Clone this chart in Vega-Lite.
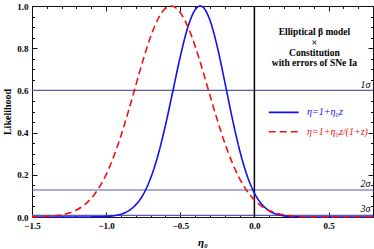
{
  "$schema": "https://vega.github.io/schema/vega-lite/v6.json",
  "width": 341,
  "height": 211,
  "autosize": {"type": "none"},
  "padding": {"left": 32, "top": 6, "right": 1, "bottom": 32},
  "background": "white",
  "config": {"view": {"stroke": "#111111", "strokeWidth": 1}, "font": "Liberation Serif"},
  "datasets": {
    "curves": [
      {"eta": -1.5, "L": 0, "model": "a"}, {"eta": -1.45, "L": 0, "model": "a"}, {"eta": -1.4, "L": 0, "model": "a"},
      {"eta": -1.35, "L": 0, "model": "a"}, {"eta": -1.3, "L": 0, "model": "a"}, {"eta": -1.25, "L": 0.00001, "model": "a"},
      {"eta": -1.2, "L": 0.00003, "model": "a"}, {"eta": -1.15, "L": 0.0001, "model": "a"}, {"eta": -1.1, "L": 0.0003, "model": "a"},
      {"eta": -1.05, "L": 0.0008, "model": "a"}, {"eta": -1.0, "L": 0.0023, "model": "a"}, {"eta": -0.95, "L": 0.0057, "model": "a"},
      {"eta": -0.9, "L": 0.0133, "model": "a"}, {"eta": -0.85, "L": 0.0287, "model": "a"}, {"eta": -0.8, "L": 0.0575, "model": "a"},
      {"eta": -0.75, "L": 0.1067, "model": "a"}, {"eta": -0.7, "L": 0.1838, "model": "a"}, {"eta": -0.65, "L": 0.2934, "model": "a"},
      {"eta": -0.6, "L": 0.4345, "model": "a"}, {"eta": -0.55, "L": 0.5965, "model": "a"}, {"eta": -0.5, "L": 0.7595, "model": "a"},
      {"eta": -0.45, "L": 0.8967, "model": "a"}, {"eta": -0.4, "L": 0.9817, "model": "a"}, {"eta": -0.365, "L": 1, "model": "a"},
      {"eta": -0.35, "L": 0.9963, "model": "a"}, {"eta": -0.3, "L": 0.9333, "model": "a"}, {"eta": -0.25, "L": 0.8058, "model": "a"},
      {"eta": -0.2, "L": 0.6412, "model": "a"}, {"eta": -0.15, "L": 0.4701, "model": "a"}, {"eta": -0.1, "L": 0.3177, "model": "a"},
      {"eta": -0.05, "L": 0.1979, "model": "a"}, {"eta": 0, "L": 0.1136, "model": "a"}, {"eta": 0.05, "L": 0.0601, "model": "a"},
      {"eta": 0.1, "L": 0.0293, "model": "a"}, {"eta": 0.15, "L": 0.0132, "model": "a"}, {"eta": 0.2, "L": 0.0055, "model": "a"},
      {"eta": 0.25, "L": 0.0021, "model": "a"}, {"eta": 0.3, "L": 0.0007, "model": "a"}, {"eta": 0.35, "L": 0.0002, "model": "a"},
      {"eta": 0.4, "L": 0.0001, "model": "a"}, {"eta": 0.45, "L": 0, "model": "a"}, {"eta": 0.5, "L": 0, "model": "a"},
      {"eta": 0.55, "L": 0, "model": "a"}, {"eta": 0.6, "L": 0, "model": "a"}, {"eta": 0.65, "L": 0, "model": "a"},
      {"eta": 0.7, "L": 0, "model": "a"}, {"eta": 0.75, "L": 0, "model": "a"}, {"eta": 0.8, "L": 0, "model": "a"},
      {"eta": -1.5, "L": 0.0006, "model": "b"}, {"eta": -1.45, "L": 0.0014, "model": "b"}, {"eta": -1.4, "L": 0.0028, "model": "b"},
      {"eta": -1.35, "L": 0.0055, "model": "b"}, {"eta": -1.3, "L": 0.0104, "model": "b"}, {"eta": -1.25, "L": 0.019, "model": "b"},
      {"eta": -1.2, "L": 0.0331, "model": "b"}, {"eta": -1.15, "L": 0.0554, "model": "b"}, {"eta": -1.1, "L": 0.0888, "model": "b"},
      {"eta": -1.05, "L": 0.1364, "model": "b"}, {"eta": -1.0, "L": 0.2011, "model": "b"}, {"eta": -0.95, "L": 0.2843, "model": "b"},
      {"eta": -0.9, "L": 0.3853, "model": "b"}, {"eta": -0.85, "L": 0.5007, "model": "b"}, {"eta": -0.8, "L": 0.6239, "model": "b"},
      {"eta": -0.75, "L": 0.7455, "model": "b"}, {"eta": -0.7, "L": 0.8542, "model": "b"}, {"eta": -0.65, "L": 0.9384, "model": "b"},
      {"eta": -0.6, "L": 0.9886, "model": "b"}, {"eta": -0.563, "L": 1, "model": "b"}, {"eta": -0.55, "L": 0.9987, "model": "b"},
      {"eta": -0.5, "L": 0.969, "model": "b"}, {"eta": -0.45, "L": 0.9036, "model": "b"}, {"eta": -0.4, "L": 0.8099, "model": "b"},
      {"eta": -0.35, "L": 0.6976, "model": "b"}, {"eta": -0.3, "L": 0.5776, "model": "b"}, {"eta": -0.25, "L": 0.4595, "model": "b"},
      {"eta": -0.2, "L": 0.3514, "model": "b"}, {"eta": -0.15, "L": 0.2583, "model": "b"}, {"eta": -0.1, "L": 0.1824, "model": "b"},
      {"eta": -0.05, "L": 0.1239, "model": "b"}, {"eta": 0, "L": 0.0808, "model": "b"}, {"eta": 0.05, "L": 0.0507, "model": "b"},
      {"eta": 0.1, "L": 0.0305, "model": "b"}, {"eta": 0.15, "L": 0.0177, "model": "b"}, {"eta": 0.2, "L": 0.0099, "model": "b"},
      {"eta": 0.25, "L": 0.0053, "model": "b"}, {"eta": 0.3, "L": 0.0027, "model": "b"}, {"eta": 0.35, "L": 0.0013, "model": "b"},
      {"eta": 0.4, "L": 0.0006, "model": "b"}, {"eta": 0.45, "L": 0.0003, "model": "b"}, {"eta": 0.5, "L": 0.0001, "model": "b"},
      {"eta": 0.55, "L": 0, "model": "b"}, {"eta": 0.6, "L": 0, "model": "b"}, {"eta": 0.65, "L": 0, "model": "b"},
      {"eta": 0.7, "L": 0, "model": "b"}, {"eta": 0.75, "L": 0, "model": "b"}, {"eta": 0.8, "L": 0, "model": "b"}
    ],
    "levels": [
      {"L": 0.6, "label": "1σ", "labelL": 0.626},
      {"L": 0.128, "label": "2σ", "labelL": 0.156},
      {"L": 0.008, "label": "3σ", "labelL": 0.036}
    ],
    "zero": [{"eta": 0}],
    "legend": [
      {"model": "a", "x1": 0.0965, "x2": 0.299, "L": 0.496, "tx": 0.355, "text": "η=1+η₀z"},
      {"model": "b", "x1": 0.0965, "x2": 0.299, "L": 0.404, "tx": 0.355, "text": "η=1+η₀z/(1+z)"}
    ],
    "notes": [
      {"eta": 0.405, "L": 0.877, "text": "Elliptical β model"},
      {"eta": 0.405, "L": 0.776, "text": "Constitution"},
      {"eta": 0.405, "L": 0.728, "text": "with errors of SNe Ia"}
    ],
    "cross": [
      {"eta": 0.405, "L": 0.825, "text": "×"}
    ]
  },
  "layer": [
    {
      "data": {"name": "levels"},
      "mark": {"type": "rule", "color": "#5a5aab", "strokeWidth": 1.2},
      "encoding": {
        "y": {
          "field": "L", "type": "quantitative",
          "scale": {"domain": [0, 1], "nice": false, "zero": false},
          "axis": {
            "orient": "left", "title": "Likelihood",
            "values": [0, 0.05, 0.1, 0.15, 0.2, 0.25, 0.3, 0.35, 0.4, 0.45, 0.5, 0.55, 0.6, 0.65, 0.7, 0.75, 0.8, 0.85, 0.9, 0.95, 1],
            "labelExpr": "abs(datum.value*5-round(datum.value*5))<0.001 ? format(datum.value,'.1f') : ''",
            "tickSize": {"condition": {"test": "abs(datum.value*5-round(datum.value*5))<0.001", "value": -5}, "value": -2.5},
            "tickColor": "#111111", "domain": false, "grid": false, "labelOverlap": false, "labelFlush": false,
            "labelFont": "Liberation Serif", "labelFontWeight": "bold", "labelFontSize": 9, "labelColor": "#000000", "labelPadding": 9,
            "titleFont": "Liberation Serif", "titleFontWeight": "bold", "titleFontSize": 10, "titleColor": "#000000", "titlePadding": 4
          }
        }
      }
    },
    {
      "data": {"name": "zero"},
      "mark": {"type": "rule", "color": "#000000", "strokeWidth": 1.5},
      "encoding": {
        "x": {
          "field": "eta", "type": "quantitative",
          "scale": {"domain": [-1.5, 0.8], "nice": false, "zero": false},
          "axis": {
            "orient": "top", "title": null, "labels": false, "domain": false, "grid": false,
            "values": [-1.5, -1.4, -1.3, -1.2, -1.1, -1.0, -0.9, -0.8, -0.7, -0.6, -0.5, -0.4, -0.3, -0.2, -0.1, 0, 0.1, 0.2, 0.3, 0.4, 0.5, 0.6, 0.7, 0.8],
            "tickSize": {"condition": {"test": "abs(datum.value*2-round(datum.value*2))<0.001", "value": -5}, "value": -2.5},
            "tickColor": "#111111"
          }
        }
      }
    },
    {
      "data": {"name": "curves"},
      "mark": {"type": "line", "strokeWidth": 1.6, "interpolate": "monotone"},
      "encoding": {
        "x": {
          "field": "eta", "type": "quantitative",
          "scale": {"domain": [-1.5, 0.8], "nice": false, "zero": false},
          "axis": {
            "orient": "bottom", "title": "η₀",
            "values": [-1.5, -1.4, -1.3, -1.2, -1.1, -1.0, -0.9, -0.8, -0.7, -0.6, -0.5, -0.4, -0.3, -0.2, -0.1, 0, 0.1, 0.2, 0.3, 0.4, 0.5, 0.6, 0.7, 0.8],
            "labelExpr": "abs(datum.value*2-round(datum.value*2))<0.001 ? format(datum.value,'.1f') : ''",
            "tickSize": {"condition": {"test": "abs(datum.value*2-round(datum.value*2))<0.001", "value": -5}, "value": -2.5},
            "tickColor": "#111111", "domain": false, "grid": false, "labelOverlap": false, "labelFlush": false,
            "labelFont": "Liberation Serif", "labelFontWeight": "bold", "labelFontSize": 9, "labelColor": "#000000", "labelPadding": 9,
            "titleFont": "Liberation Serif", "titleFontStyle": "italic", "titleFontWeight": "bold", "titleFontSize": 11, "titleColor": "#000000", "titlePadding": 4
          }
        },
        "y": {
          "field": "L", "type": "quantitative",
          "scale": {"domain": [0, 1], "nice": false, "zero": false},
          "axis": {
            "orient": "right", "title": null, "labels": false, "domain": false, "grid": false,
            "values": [0, 0.05, 0.1, 0.15, 0.2, 0.25, 0.3, 0.35, 0.4, 0.45, 0.5, 0.55, 0.6, 0.65, 0.7, 0.75, 0.8, 0.85, 0.9, 0.95, 1],
            "tickSize": {"condition": {"test": "abs(datum.value*5-round(datum.value*5))<0.001", "value": -5}, "value": -2.5},
            "tickColor": "#111111"
          }
        },
        "color": {"field": "model", "type": "nominal", "scale": {"domain": ["a", "b"], "range": ["#1010f0", "#f01010"]}, "legend": null},
        "strokeDash": {"field": "model", "type": "nominal", "scale": {"domain": ["a", "b"], "range": [[1, 0], [7, 4]]}, "legend": null}
      }
    },
    {
      "data": {"name": "legend"},
      "mark": {"type": "rule", "strokeWidth": 1.6},
      "encoding": {
        "x": {"field": "x1", "type": "quantitative", "axis": null},
        "x2": {"field": "x2"},
        "y": {"field": "L", "type": "quantitative", "axis": null},
        "color": {"field": "model", "type": "nominal", "scale": {"domain": ["a", "b"], "range": ["#1010f0", "#f01010"]}, "legend": null},
        "strokeDash": {"field": "model", "type": "nominal", "scale": {"domain": ["a", "b"], "range": [[1, 0], [7, 4]]}, "legend": null}
      }
    },
    {
      "data": {"name": "legend"},
      "mark": {"type": "text", "align": "left", "baseline": "middle", "font": "Liberation Serif", "fontStyle": "italic", "fontSize": 10},
      "encoding": {
        "x": {"field": "tx", "type": "quantitative", "axis": null},
        "y": {"field": "L", "type": "quantitative", "axis": null},
        "text": {"field": "text"},
        "color": {"field": "model", "type": "nominal", "scale": {"domain": ["a", "b"], "range": ["#1010f0", "#f01010"]}, "legend": null}
      }
    },
    {
      "data": {"name": "notes"},
      "mark": {"type": "text", "align": "center", "baseline": "middle", "font": "Liberation Serif", "fontWeight": "bold", "fontSize": 9.5, "color": "#000000"},
      "encoding": {
        "x": {"field": "eta", "type": "quantitative", "axis": null},
        "y": {"field": "L", "type": "quantitative", "axis": null},
        "text": {"field": "text"}
      }
    },
    {
      "data": {"name": "cross"},
      "mark": {"type": "text", "align": "center", "baseline": "middle", "font": "Liberation Serif", "fontWeight": "bold", "fontSize": 10, "color": "#000000"},
      "encoding": {
        "x": {"field": "eta", "type": "quantitative", "axis": null},
        "y": {"field": "L", "type": "quantitative", "axis": null},
        "text": {"field": "text"}
      }
    },
    {
      "data": {"name": "levels"},
      "mark": {"type": "text", "align": "right", "baseline": "middle", "font": "Liberation Serif", "fontStyle": "italic", "fontSize": 10, "color": "#000000"},
      "encoding": {
        "x": {"datum": 0.782, "type": "quantitative", "axis": null},
        "y": {"field": "labelL", "type": "quantitative", "axis": null},
        "text": {"field": "label"}
      }
    }
  ]
}
